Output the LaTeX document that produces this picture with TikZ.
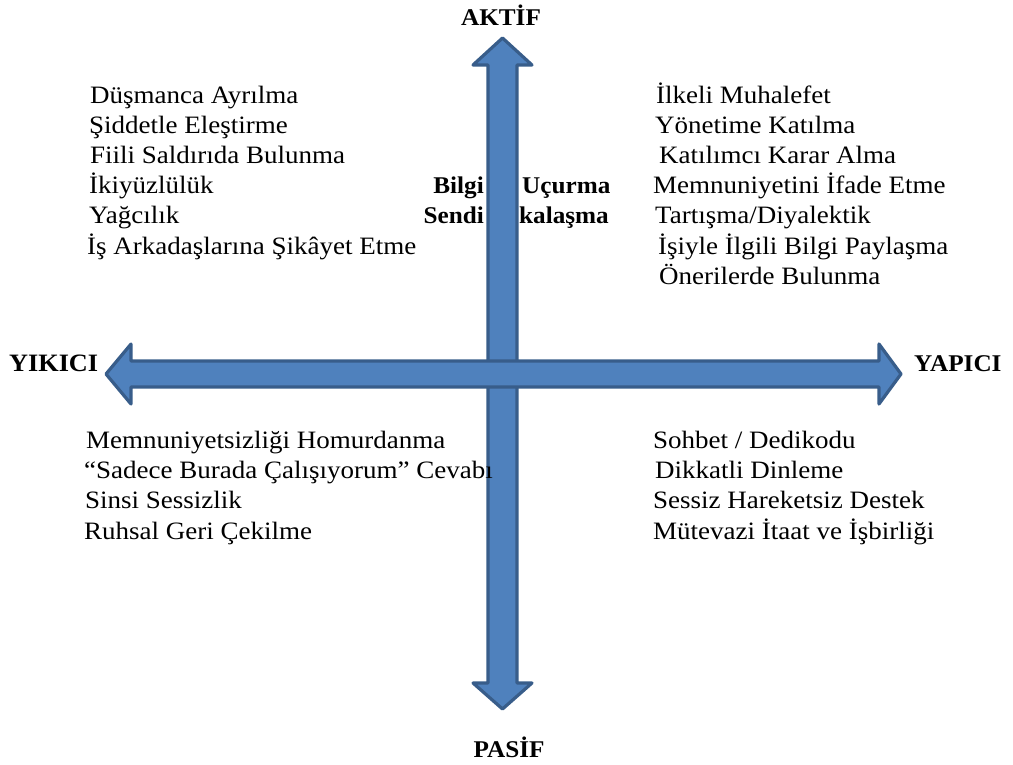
\documentclass[tikz,border=0pt]{standalone}
\usepackage{fontspec}
\setmainfont{Liberation Serif}[FakeStretch=1.05]
\newfontfamily\itemfont{Liberation Serif}[FakeStretch=1.08]
\definecolor{axisfill}{HTML}{4F81BD}
\definecolor{axisline}{HTML}{385D8A}
\begin{document}
\begin{tikzpicture}[x=1pt,y=-1pt,
  axisarrow/.style={fill=axisfill,draw=axisline,line width=3.2pt,line join=round},
  item/.style={anchor=base west,inner sep=0pt,font=\itemfont\fontsize{25}{30}\selectfont},
  pole/.style={inner sep=0pt,font=\fontsize{24}{30}\selectfont\bfseries},
  side/.style={inner sep=0pt,font=\fontsize{24}{30}\selectfont\bfseries}]
\useasboundingbox (0,0) rectangle (1013,764);

% vertical axis: double-headed block arrow (AKTİF -- PASİF)
\draw[axisarrow] (502.5,38) -- (532,65) -- (517,65) -- (517,683) -- (532,683)
  -- (502.5,709) -- (473,683) -- (488,683) -- (488,65) -- (473,65) -- cycle;

% horizontal axis: double-headed block arrow (YIKICI -- YAPICI)
\draw[axisarrow] (106,374) -- (131,344) -- (131,361) -- (879,361) -- (879,344)
  -- (901,374) -- (879,404) -- (879,387) -- (131,387) -- (131,404) -- cycle;

% pole labels
\node[pole,anchor=base] (aktif) at (501,25) {AKTİF};
\node[pole,anchor=base] (pasif) at (509,757) {PASİF};
\node[pole,anchor=base west,font=\fontsize{25}{30}\selectfont\bfseries] (yikici) at (9,371) {YIKICI};
\node[pole,anchor=base west] (yapici) at (914,371) {YAPICI};

% labels straddling the vertical axis
\node[side,anchor=base east] (bilgi) at (484,193) {Bilgi};
\node[side,anchor=base east] (sendi) at (484,223) {Sendi};
\node[side,anchor=base west] (ucurma) at (522,193) {Uçurma};
\node[side,anchor=base west] (kalasma) at (519,223) {kalaşma};

% upper left quadrant
\node[item] (ul1) at (90,103) {Düşmanca Ayrılma};
\node[item] (ul2) at (89,133) {Şiddetle Eleştirme};
\node[item] (ul3) at (90,163) {Fiili Saldırıda Bulunma};
\node[item] (ul4) at (89,193) {İkiyüzlülük};
\node[item] (ul5) at (89,223) {Yağcılık};
\node[item] (ul6) at (87,254) {İş Arkadaşlarına Şikâyet Etme};

% upper right quadrant
\node[item] (ur1) at (656,103) {İlkeli Muhalefet};
\node[item] (ur2) at (655,133) {Yönetime Katılma};
\node[item] (ur3) at (659,163) {Katılımcı Karar Alma};
\node[item] (ur4) at (653,193) {Memnuniyetini İfade Etme};
\node[item] (ur5) at (655,223) {Tartışma/Diyalektik};
\node[item] (ur6) at (658,254) {İşiyle İlgili Bilgi Paylaşma};
\node[item] (ur7) at (659,284) {Önerilerde Bulunma};

% lower left quadrant
\node[item] (ll1) at (86,448) {Memnuniyetsizliği Homurdanma};
\node[item] (ll2) at (84,478) {“Sadece Burada Çalışıyorum” Cevabı};
\node[item] (ll3) at (85,508) {Sinsi Sessizlik};
\node[item] (ll4) at (84,539) {Ruhsal Geri Çekilme};

% lower right quadrant
\node[item] (lr1) at (653,448) {Sohbet / Dedikodu};
\node[item] (lr2) at (655,478) {Dikkatli Dinleme};
\node[item] (lr3) at (653,508) {Sessiz Hareketsiz Destek};
\node[item] (lr4) at (653,539) {Mütevazi İtaat ve İşbirliği};
\end{tikzpicture}
\end{document}
